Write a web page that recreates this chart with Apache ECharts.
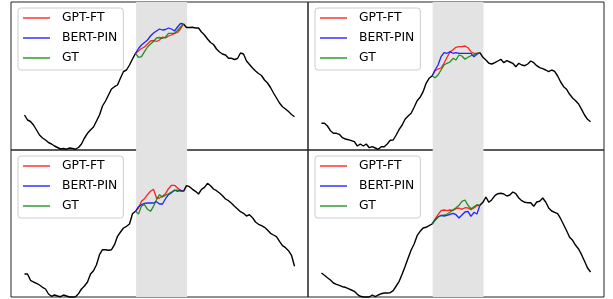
<!DOCTYPE html>
<html>
<head>
<meta charset="utf-8">
<script src="https://cdn.jsdelivr.net/npm/echarts@6/dist/echarts.min.js"></script>
<style>html,body{margin:0;padding:0;background:#fff}#c{width:613px;height:299px}</style>
</head>
<body>
<div id="c"></div>
<script>
// series names (legend)
const seriesNames = ['GPT-FT', 'BERT-PIN', 'GT'];
// time index where masked window starts / ends, and shaded span
const gapStart = 37;
const futStart = 53;
const shadeSpan = [37.2, 54.2];

// ---- Top-left panel ----
const histTL = [35,30,28.5,25,20,15,12,10,7.5,6,4,2.5,1,1.5,0.8,2,1.5,0.8,2.5,6,12,16.7,20,23,29,35,44,49,55,61,63.3,65,72,78.5,80,85,91,96.7];
const futTL = [126,122.5,122.5,122.7,122,122,118,115,111,107.5,105.5,101,98,96,95,91.7,91.7,90.5,91.5,97,96,89,85.5,82,79,76.5,74.5,70,67,62.5,57,52,47,43.3,41,38.5,35.5,33.3];
const gptTL = [96.7,99,101.5,103,106,109,109.5,108.5,110,113,112,114,115,116.5,117.5,121,126];
const bertTL = [96.7,101.5,105,107.5,110,114,117,119,121,120,120.5,122,121,119,123,126.5,126];
const gtTL = [96.7,92.7,93.3,98.3,103,106,108.5,112,112.5,111.7,113,116.7,116.7,116.7,119.5,123,126];

// ---- Top-right panel ----
const histTR = [26.7,26.7,24,19.3,16.7,16.7,15.7,12.3,11,10.3,9.3,8.3,4,6,4,6,2.3,3.3,2,0.7,3.3,3.3,6,9.7,10,15,20.7,25,31,34,36.7,42.7,49.3,52.7,58.3,66.7,71.7,74];
const futTR = [97.3,92.7,90,86.7,86,87.3,89,90.7,87.3,89.3,88,86.7,83.3,86.7,85,84.3,86,89,87.3,84.3,82.3,81.3,80,78.3,80,78.7,74,68,63.3,60.7,55.7,52,49.3,46,40.7,35,30.7,28.3];
const gptTR = [74,79.3,81,82,86.7,92.7,98,100.3,102.7,103.3,103.3,104,102.3,98.3,96.7,96.7,97.3];
const bertTR = [74,80,85,93.3,97.3,96.7,98.3,96.7,97.3,96.7,96.7,96.7,96.7,96.7,93.3,95.7,97.3];
const gtTR = [74,72.3,75,80,85,86.7,88,91.7,90,95,94,90.7,92.7,94.3,95,96.7,97.3];

// ---- Bottom-left panel ----
const histBL = [23,23,16.7,15,13.7,12,9.7,8,3,0.7,2,1,0.3,2,1,0,0,0.3,3.3,8,11,15,23,26.3,32.3,42.3,47.3,47.3,46.7,47.3,52.3,60.7,65,69,70.7,73,83.3,85.7];
const futBL = [105.7,111.3,110.3,107.7,105.7,103,107.7,109.7,113.7,111.3,108,106.3,104,101.3,98,96.3,93.7,90.7,88,85.3,83.7,81,82.3,79.3,75,72.7,71.3,69.7,67,63.7,62,60.3,55.7,51.3,49.3,46.3,41.7,30.7];
const gptBL = [85.7,89,95.7,98.3,102.3,105.7,107.7,99,99,100.7,103.3,108.3,111.7,111.7,109,106.7,105.7];
const bertBL = [85.7,90.3,92.3,93.7,94,94,94,95.3,93,93,98.3,102.3,104.3,107,105.7,107,105.7];
const gtBL = [85.7,83,91,92.3,87.7,85.7,90.7,97.3,102.3,100,101.7,103.3,105,106.3,107,105.7,105.7];

// ---- Bottom-right panel ----
const histBR = [24,21.7,19.3,17,14,12.7,11.7,10.3,9.7,8.3,7,5.7,2.7,0.7,0,0,0,2,0.3,2,3.3,4,4,4.3,6.3,11,15.7,23,30.7,39,47,53,61.3,65.7,69,69.7,71.3,73];
const futBR = [91.7,94.7,100,94.7,97.3,101.3,103.3,103.7,103,101,102,105,103.3,99,96.3,94.7,94.3,94.3,90.7,95,95.7,99,95,89,86,84.7,83.3,78.3,72.3,66.3,59.7,56.7,51.7,48,42.3,35.7,29,25];
const gptBR = [73,78,82.3,86.3,87,86.3,87,86.7,88.3,89,87.7,89.3,89,87.3,89,91.3,91.7];
const bertBR = [73,77,80,81.7,81,81.7,82.7,83.7,82.3,79,82,85,85.7,80.7,84.7,83,91.7];
const gtBR = [73,77,80,81.3,82,83,84.7,87,89.3,91.7,95.7,97,91.7,88.3,90.3,92.3,91.7];

const panels = [
  {hist: histTL, fut: futTL, gpt: gptTL, bert: bertTL, gt: gtTL},
  {hist: histTR, fut: futTR, gpt: gptTR, bert: bertTR, gt: gtTR},
  {hist: histBL, fut: futBL, gpt: gptBL, bert: bertBL, gt: gtBL},
  {hist: histBR, fut: futBR, gpt: gptBR, bert: bertBR, gt: gtBR}
];

const layout = [
  {grid: {left: 11, top: 2, width: 297, height: 148}, ymax: 148, legend: {left: 18, top: 8}},
  {grid: {left: 308, top: 2, width: 296, height: 148}, ymax: 148, legend: {left: 315, top: 8}},
  {grid: {left: 11, top: 150, width: 297, height: 147}, ymax: 147, legend: {left: 18, top: 156}},
  {grid: {left: 308, top: 150, width: 296, height: 147}, ymax: 147, legend: {left: 315, top: 156}}
];

const colors = {'GPT-FT': '#ff0000', 'BERT-PIN': '#0000ff', 'GT': '#008000'};
const toPairs = (arr, start) => arr.map((v, k) => [start + k, v]);

const grids = [], xAxes = [], yAxes = [], series = [], legends = [];
panels.forEach((p, k) => {
  const L = layout[k];
  grids.push(Object.assign({show: true, borderColor: '#222', borderWidth: 1, backgroundColor: 'transparent', containLabel: false}, L.grid));
  xAxes.push({type: 'value', gridIndex: k, min: -4.5, max: 94.5, show: false, splitLine: {show: false}});
  yAxes.push({type: 'value', gridIndex: k, min: 0, max: L.ymax, show: false, splitLine: {show: false}});
  const base = {type: 'line', xAxisIndex: k, yAxisIndex: k, symbol: 'none', clip: false, animation: false, silent: true};
  series.push(Object.assign({}, base, {
    name: 'hist' + k, data: toPairs(p.hist, 0), color: '#000',
    lineStyle: {color: '#000', width: 1.4},
    markArea: {silent: true, itemStyle: {color: '#e3e3e3'}, data: [[{xAxis: shadeSpan[0]}, {xAxis: shadeSpan[1]}]]}
  }));
  series.push(Object.assign({}, base, {
    name: 'fut' + k, data: toPairs(p.fut, futStart), color: '#000',
    lineStyle: {color: '#000', width: 1.4}
  }));
  [['GPT-FT', p.gpt], ['BERT-PIN', p.bert], ['GT', p.gt]].forEach(([n, arr]) => {
    series.push(Object.assign({}, base, {
      name: n, data: toPairs(arr, gapStart), color: colors[n],
      lineStyle: {color: colors[n], width: 1.3, opacity: 0.85}, z: 3
    }));
  });
  legends.push({
    left: L.legend.left, top: L.legend.top, orient: 'vertical', data: seriesNames,
    icon: 'rect', itemWidth: 27, itemHeight: 1.5, itemGap: 6, selectedMode: false,
    padding: [3, 6, 5, 5], backgroundColor: 'rgba(255,255,255,0.8)',
    borderColor: '#cccccc', borderWidth: 1, borderRadius: 3, z: 10,
    itemStyle: {opacity: 0.8},
    textStyle: {fontFamily: 'DejaVu Sans', fontSize: 12.4, color: '#000', lineHeight: 14, padding: [0, 0, 0, 7]}
  });
});

const chart = echarts.init(document.getElementById('c'), null, {renderer: 'canvas'});
chart.setOption({
  animation: false,
  backgroundColor: '#fff',
  grid: grids, xAxis: xAxes, yAxis: yAxes, series: series, legend: legends
});
</script>
</body>
</html>
